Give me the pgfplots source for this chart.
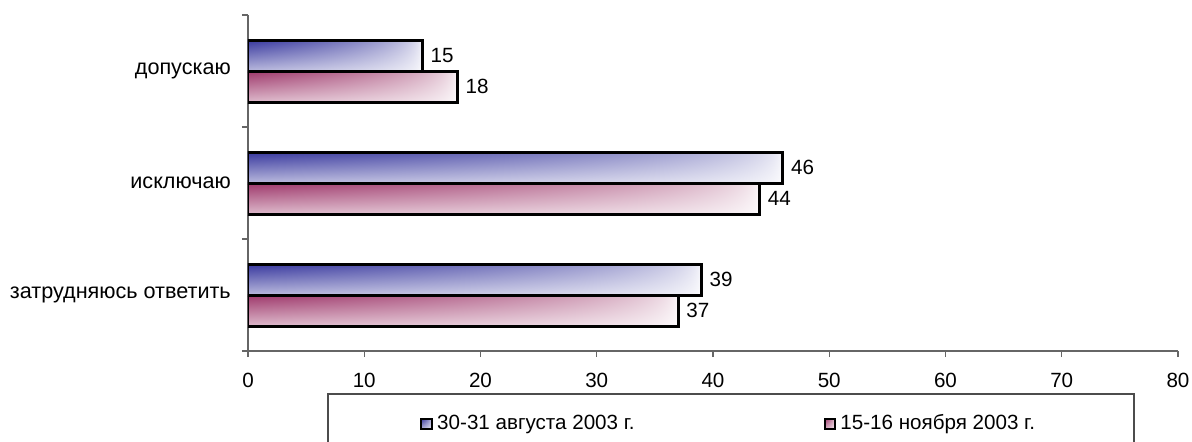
\documentclass[border=0pt]{standalone}
\usepackage{pgfplots}
\pgfplotsset{compat=1.18}
\usepackage{fontspec}
\setmainfont{Liberation Sans}
\pgfdeclarefunctionalshading{blueshade}{\pgfpoint{0bp}{0bp}}{\pgfpoint{100bp}{100bp}}{}{
  75 exch sub 50 div 0.65 mul 1 exch sub
  exch 25 sub 50 div 1 exch sub dup 0 lt {pop 0} if sqrt
  mul
  dup 0.78 mul 1 exch sub
  exch dup 0.78 mul 1 exch sub
  exch 0.38 mul 1 exch sub
}
\pgfdeclarefunctionalshading{pinkshade}{\pgfpoint{0bp}{0bp}}{\pgfpoint{100bp}{100bp}}{}{
  75 exch sub 50 div 0.65 mul 1 exch sub
  exch 25 sub 50 div 1 exch sub dup 0 lt {pop 0} if sqrt
  mul
  dup 0.38 mul 1 exch sub
  exch dup 0.78 mul 1 exch sub
  exch 0.58 mul 1 exch sub
}
\pgfplotsset{sqlegend/.style={legend image code/.code={\draw[##1, line width=1pt] (0pt,-2.7pt) rectangle (5.4pt,2.7pt);}}}
\begin{document}
\fontsize{10.3}{12}\selectfont
\begin{tikzpicture}
\path[use as bounding box] (-124pt,-45pt) rectangle (472pt,175.5pt);
\begin{axis}[
  scale only axis, width=465pt, height=168pt,
  at={(0pt,0pt)}, anchor=south west,
  /pgf/number format/assume math mode=true,
  xbar, bar width=15.5pt,
  xmin=0, xmax=80, xtick={0,10,...,80},
  ymin=-0.5, ymax=2.5,
  ytick={0,1,2},
  yticklabels={затрудняюсь ответить, исключаю, допускаю},
  minor ytick={-0.5,0.5,1.5,2.5},
  major y tick style={draw=none},
  tick align=outside, major tick length=3pt, minor tick length=3pt,
  axis x line*=bottom, axis y line*=left,
  axis line style={black!60, line width=0.6pt},
  tick style={black!60, line width=0.6pt},
  yticklabel style={xshift=-2pt, font=\fontsize{10.8}{12}\selectfont},
  xticklabel style={yshift=-4.5pt},
  point meta=x,
  nodes near coords,
  nodes near coords align={horizontal},
  legend columns=2,
  legend style={draw=none, fill=none, at={(axis description cs:0.185,-0.217)}, anchor=west,
    inner sep=0pt, /tikz/every even column/.append style={column sep=92.5pt}},
]
\addplot[bar shift=7.75pt, draw=black, line width=1.5pt, shading=blueshade, sqlegend]
  coordinates {(15,2)};
\addlegendentry{30-31 августа 2003 г.}
\addplot[bar shift=-7.75pt, draw=black, line width=1.5pt, shading=pinkshade, sqlegend]
  coordinates {(18,2)};
\addlegendentry{15-16 ноября 2003 г.}
\addplot[forget plot, bar shift=7.75pt, draw=black, line width=1.5pt, shading=blueshade]
  coordinates {(46,1)};
\addplot[forget plot, bar shift=-7.75pt, draw=black, line width=1.5pt, shading=pinkshade]
  coordinates {(44,1)};
\addplot[forget plot, bar shift=7.75pt, draw=black, line width=1.5pt, shading=blueshade]
  coordinates {(39,0)};
\addplot[forget plot, bar shift=-7.75pt, draw=black, line width=1.5pt, shading=pinkshade]
  coordinates {(37,0)};
\end{axis}
\draw[black!70, line width=0.6pt] (40pt,-50pt) -- (40pt,-21.5pt) -- (443pt,-21.5pt) -- (443pt,-50pt);
\end{tikzpicture}
\end{document}
